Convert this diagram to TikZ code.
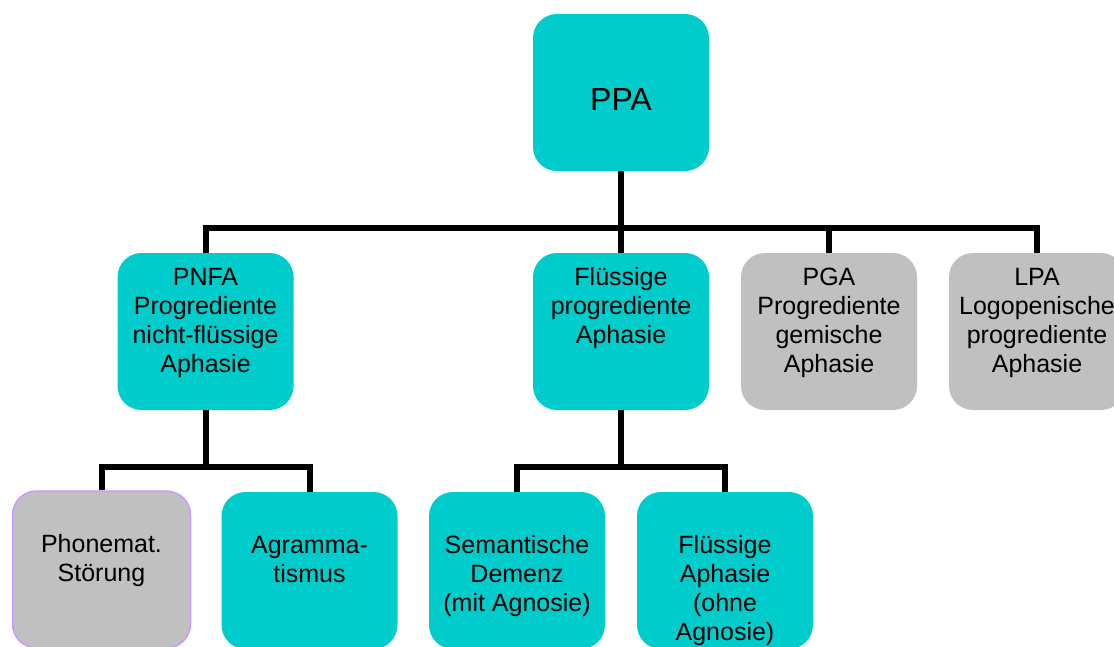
\documentclass[tikz,border=0pt]{standalone}
\usepackage{fontspec}
\setmainfont{Liberation Sans}
\usetikzlibrary{calc}
\definecolor{boxcyan}{RGB}{0,204,204}
\definecolor{boxgrey}{RGB}{192,192,192}
\definecolor{boxlilac}{RGB}{204,153,255}
\begin{document}
\begin{tikzpicture}[x=1pt,y=-1pt,
  box/.style={rectangle, rounded corners=24pt, minimum width=176pt,
    minimum height=157pt, inner sep=0pt, fill=boxcyan, draw=none},
  greybox/.style={box, fill=boxgrey},
  lbl/.style={anchor=north, inner sep=0pt, align=center,
    font=\fontsize{25}{29}\selectfont},
  conn/.style={line width=6pt, line join=miter, line cap=butt}]
\useasboundingbox (0,0) rectangle (1114,646);
\clip (0,0) rectangle (1114,646);

% root
\node[box] (ppa) at (621,92.5) {};
\node[lbl, font=\fontsize{32}{38}\selectfont] (ppaT) at ($(ppa.north)+(0,70)$) {\rule{0pt}{26pt}PPA};

% second level
\node[box] (pnfa) at (205.5,331.5) {};
\node[box] (flu) at (621,331.5) {};
\node[greybox] (pga) at (829,331.5) {};
\node[greybox] (lpa) at (1037,331.5) {};
\node[lbl] (pnfaT) at ($(pnfa.north)+(0,12)$) {\rule{0pt}{20pt}PNFA\\Progrediente\\nicht-flüssige\\Aphasie};
\node[lbl] (fluT) at ($(flu.north)+(0,12)$) {\rule{0pt}{20pt}Flüssige\\progrediente\\Aphasie};
\node[lbl] (pgaT) at ($(pga.north)+(0,12)$) {\rule{0pt}{20pt}PGA\\Progrediente\\gemische\\Aphasie};
\node[lbl] (lpaT) at ($(lpa.north)+(0,12)$) {\rule{0pt}{20pt}LPA\\Logopenische\\progrediente\\Aphasie};

% third level
\node[greybox, draw=boxlilac, line width=1.5pt, minimum width=178pt] (phon) at (101.5,569.5) {};
\node[box] (agr) at (309.5,570.5) {};
\node[box] (sem) at (517,570.5) {};
\node[box] (flua) at (725,570.5) {};
\node[lbl] (phonT) at ($(phon.north)+(0,42)$) {\rule{0pt}{20pt}Phonemat.\\Störung};
\node[lbl] (agrT) at ($(agr.north)+(0,41)$) {\rule{0pt}{20pt}Agramma-\\tismus};
\node[lbl] (semT) at ($(sem.north)+(0,41)$) {\rule{0pt}{20pt}Semantische\\Demenz\\(mit Agnosie)};
\node[lbl] (fluaT) at ($(flua.north)+(0,41)$) {\rule{0pt}{20pt}Flüssige\\Aphasie\\(ohne\\Agnosie)};

% connectors
\coordinate (busA) at (621,228);
\coordinate (busB) at (0,467);
\draw[conn] (ppa.south) -- (flu.north);
\draw[conn] (pnfa.north) -- (pnfa.north |- busA) -- (lpa.north |- busA) -- (lpa.north);
\draw[conn] (pga.north) -- (pga.north |- busA);
\draw[conn] (pnfa.south) -- (pnfa.south |- busB);
\draw[conn] (phon.north) -- (phon.north |- busB) -- (agr.north |- busB) -- (agr.north);
\draw[conn] (flu.south) -- (flu.south |- busB);
\draw[conn] (sem.north) -- (sem.north |- busB) -- (flua.north |- busB) -- (flua.north);
\end{tikzpicture}
\end{document}
